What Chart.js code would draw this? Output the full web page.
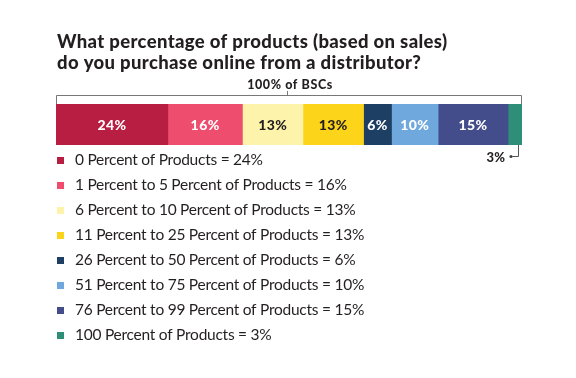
<!DOCTYPE html>
<html><head><meta charset="utf-8">
<script src="https://cdn.jsdelivr.net/npm/chart.js@4"></script>
<style>html,body{margin:0;padding:0;background:#fff;}#wrap{width:576px;height:378px;position:relative;}</style>
</head><body><div id="wrap"><canvas id="c" width="576" height="378"></canvas></div>
<script>
const categories = ["100% of BSCs"];
const seriesLabels = ["0 Percent of Products","1 Percent to 5 Percent of Products","6 Percent to 10 Percent of Products","11 Percent to 25 Percent of Products","26 Percent to 50 Percent of Products","51 Percent to 75 Percent of Products","76 Percent to 99 Percent of Products","100 Percent of Products"];
const seriesValues = [24,16,13,13,6,10,15,3];
const seriesColors = ["#B81E42","#EE4D6E","#FDF3AA","#FCD419","#1C3F63","#6FA8DC","#434D8C","#2E8E78"];
const labelColors = ["#fff","#fff","#231F20","#231F20","#fff","#fff","#fff","#231F20"];
const titleLines = ["What percentage of products (based on sales)","do you purchase online from a distributor?"];

const TEXT = "#231F20";
const overlay = {
  id:'overlay',
  afterDraw(chart){
    const ctx = chart.ctx; const a = chart.chartArea;
    ctx.save();
    // title
    ctx.fillStyle = TEXT; ctx.textBaseline='alphabetic'; ctx.textAlign='left';
    ctx.font = '900 18.5px Lato';
    ctx.letterSpacing = '0px';
    const w0 = ctx.measureText(titleLines[0]).width;
    const sp = Math.max(0, (390 - w0) / (titleLines[0].length - 1));
    ctx.letterSpacing = sp.toFixed(2) + 'px';
    ctx.fillText(titleLines[0], 57, 48);
    ctx.fillText(titleLines[1], 57, 69);
    ctx.letterSpacing = '0px';
    // bracket
    ctx.strokeStyle = '#777'; ctx.lineWidth = 1;
    const by = 95.5;
    ctx.beginPath();
    ctx.moveTo(a.left+0.5, a.top); ctx.lineTo(a.left+0.5, by); ctx.lineTo(a.right-0.5, by); ctx.lineTo(a.right-0.5, a.top);
    const mx = 287.5;
    ctx.moveTo(mx, by); ctx.lineTo(mx, 91);
    ctx.stroke();
    ctx.font = '900 12.5px Lato'; ctx.textAlign='center';
    ctx.letterSpacing = '0.6px';
    ctx.fillText(categories[0], 290, 89);
    // bar labels
    ctx.font = '900 14px Lato'; ctx.textBaseline='middle';
    ctx.letterSpacing = '0.4px';
    chart.data.datasets.forEach((ds,i)=>{
      const el = chart.getDatasetMeta(i).data[0];
      const v = ds.data[0];
      if (i === seriesValues.length-1) {
        const x = Math.round(el.x - 4)+0.5;
        ctx.strokeStyle = '#555';
        ctx.beginPath(); ctx.moveTo(x, a.bottom); ctx.lineTo(x, 156.5); ctx.lineTo(x-6, 156.5); ctx.stroke();
        ctx.fillStyle = '#444'; ctx.beginPath(); ctx.arc(x-7.5, 156.5, 1.6, 0, Math.PI*2); ctx.fill();
        ctx.fillStyle = TEXT; ctx.textAlign='right';
        ctx.textBaseline='alphabetic';
        ctx.font = '900 13px Lato';
        ctx.fillText(v+'%', x-13, 162);
      } else {
        ctx.fillStyle = labelColors[i]; ctx.textAlign='center';
        ctx.fillText(v+'%', (el.x+el.base)/2, (a.top+a.bottom)/2+0.5);
      }
    });
    ctx.letterSpacing = '0px';
    // legend
    ctx.textAlign='left'; ctx.textBaseline='middle'; ctx.font = '15.5px Lato';
    ctx.letterSpacing = '-0.25px';
    seriesLabels.forEach((lab,i)=>{
      const y = 160 + i*25;
      ctx.fillStyle = seriesColors[i];
      ctx.fillRect(57, Math.round(y)-3, 7, 7);
      ctx.fillStyle = TEXT;
      ctx.fillText(lab + ' = ' + seriesValues[i] + '%', 75, y);
    });
    ctx.restore();
  }
};

new Chart(document.getElementById('c'), {
  type:'bar',
  data:{
    labels: categories,
    datasets: seriesLabels.map((l,i)=>({label:l, data:[seriesValues[i]], backgroundColor:seriesColors[i], borderWidth:0, barPercentage:1, categoryPercentage:1}))
  },
  options:{
    indexAxis:'y', responsive:false, animation:false,
    layout:{padding:{left:56, right:54, top:104, bottom:233}},
    scales:{
      x:{stacked:true, min:0, max:100, display:false},
      y:{stacked:true, display:false}
    },
    plugins:{legend:{display:false}, tooltip:{enabled:false}, title:{display:false}}
  },
  plugins:[overlay]
});
</script></body></html>
